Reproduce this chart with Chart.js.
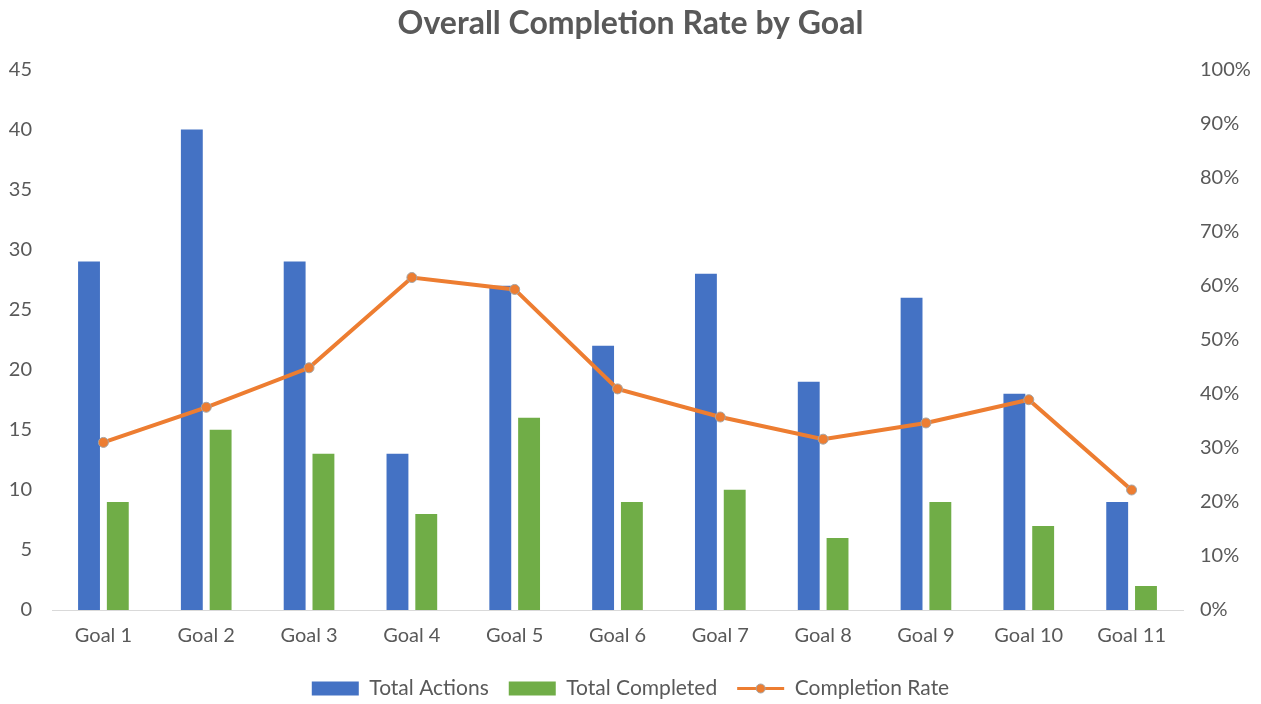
<!DOCTYPE html>
<html>
<head>
<meta charset="utf-8">
<script src="https://cdn.jsdelivr.net/npm/chart.js@4/dist/chart.umd.min.js"></script>
<style>
  html, body { margin: 0; padding: 0; background: #fff; }
  #wrap { width: 1261px; height: 704px; }
</style>
</head>
<body>
<div id="wrap"><canvas id="myChart"></canvas></div>
<script>
const goals = ['Goal 1', 'Goal 2', 'Goal 3', 'Goal 4', 'Goal 5', 'Goal 6', 'Goal 7', 'Goal 8', 'Goal 9', 'Goal 10', 'Goal 11'];
const totalActions = [29, 40, 29, 13, 27, 22, 28, 19, 26, 18, 9];
const totalCompleted = [9, 15, 13, 8, 16, 9, 10, 6, 9, 7, 2];
const completionRate = [0.31, 0.375, 0.448, 0.615, 0.593, 0.409, 0.357, 0.316, 0.346, 0.389, 0.222];

const textColor = '#595959';
const fontFamily = "Lato, 'Open Sans', sans-serif";

// draw a line + marker in place of the box for the line series in the legend
const legendLineMarker = {
  id: 'legendLineMarker',
  afterDraw(chart) {
    const legend = chart.legend;
    if (!legend || !legend.legendHitBoxes) return;
    const ctx = chart.ctx;
    legend.legendItems.forEach((item, i) => {
      if (item.datasetIndex !== 0) return;
      const box = legend.legendHitBoxes[i];
      const bw = legend.options.labels.boxWidth;
      const cy = box.top + box.height / 2;
      ctx.save();
      ctx.fillStyle = '#fff';
      ctx.fillRect(box.left - 4, cy - 12, bw + 8, 24);
      ctx.strokeStyle = '#ED7D31';
      ctx.lineWidth = 3;
      ctx.beginPath();
      ctx.moveTo(box.left, cy);
      ctx.lineTo(box.left + bw, cy);
      ctx.stroke();
      ctx.fillStyle = '#ED7D31';
      ctx.strokeStyle = '#A5A5A5';
      ctx.lineWidth = 1;
      ctx.beginPath();
      ctx.arc(box.left + bw / 2, cy, 4.5, 0, Math.PI * 2);
      ctx.fill();
      ctx.stroke();
      ctx.restore();
    });
  }
};

const ctx = document.getElementById('myChart');

const myChart = new Chart(ctx, {
  data: {
    labels: goals,
    datasets: [
      {
        type: 'line',
        label: 'Completion Rate',
        data: completionRate,
        yAxisID: 'y1',
        borderColor: '#ED7D31',
        backgroundColor: '#ED7D31',
        borderWidth: 4,
        pointRadius: 5,
        pointBackgroundColor: '#ED7D31',
        pointBorderColor: '#A5A5A5',
        pointBorderWidth: 1,
        tension: 0,
        order: 0
      },
      {
        type: 'bar',
        label: 'Total Actions',
        data: totalActions,
        yAxisID: 'y',
        backgroundColor: '#4472C4',
        categoryPercentage: 0.56,
        barPercentage: 0.76,
        order: 1
      },
      {
        type: 'bar',
        label: 'Total Completed',
        data: totalCompleted,
        yAxisID: 'y',
        backgroundColor: '#70AD47',
        categoryPercentage: 0.56,
        barPercentage: 0.76,
        order: 2
      }
    ]
  },
  options: {
    responsive: true,
    maintainAspectRatio: false,
    animation: false,
    layout: { padding: { top: 4, left: 0, right: 0, bottom: -5 } },
    plugins: {
      title: {
        display: true,
        text: 'Overall Completion Rate by Goal',
        color: textColor,
        font: { family: fontFamily, size: 32, weight: 'bold' },
        padding: { top: 0, bottom: 27 }
      },
      legend: {
        position: 'bottom',
        labels: {
          color: textColor,
          font: { family: fontFamily, size: 21 },
          boxWidth: 47,
          boxHeight: 14,
          padding: 20,
          sort: (a, b) => [1, 2, 0].indexOf(a.datasetIndex) - [1, 2, 0].indexOf(b.datasetIndex)
        }
      },
      tooltip: { enabled: false }
    },
    scales: {
      x: {
        grid: { display: false, drawTicks: false },
        border: { display: true, color: '#D9D9D9', width: 1 },
        ticks: { color: textColor, font: { family: fontFamily, size: 20 }, padding: 14 },
        afterFit: s => { s.height = 48; }
      },
      y: {
        position: 'left',
        min: 0,
        max: 45,
        grid: { display: false, drawTicks: false },
        border: { display: false },
        ticks: { stepSize: 5, color: textColor, font: { family: fontFamily, size: 20 }, padding: 20 },
        afterFit: s => { s.width = 52; }
      },
      y1: {
        position: 'right',
        min: 0,
        max: 1,
        grid: { display: false, drawTicks: false },
        border: { display: false },
        ticks: {
          stepSize: 0.1,
          color: textColor,
          font: { family: fontFamily, size: 20 },
          padding: 17,
          callback: v => Math.round(v * 100) + '%'
        },
        afterFit: s => { s.width = 78; }
      }
    }
  },
  plugins: [legendLineMarker]
});
</script>
</body>
</html>
